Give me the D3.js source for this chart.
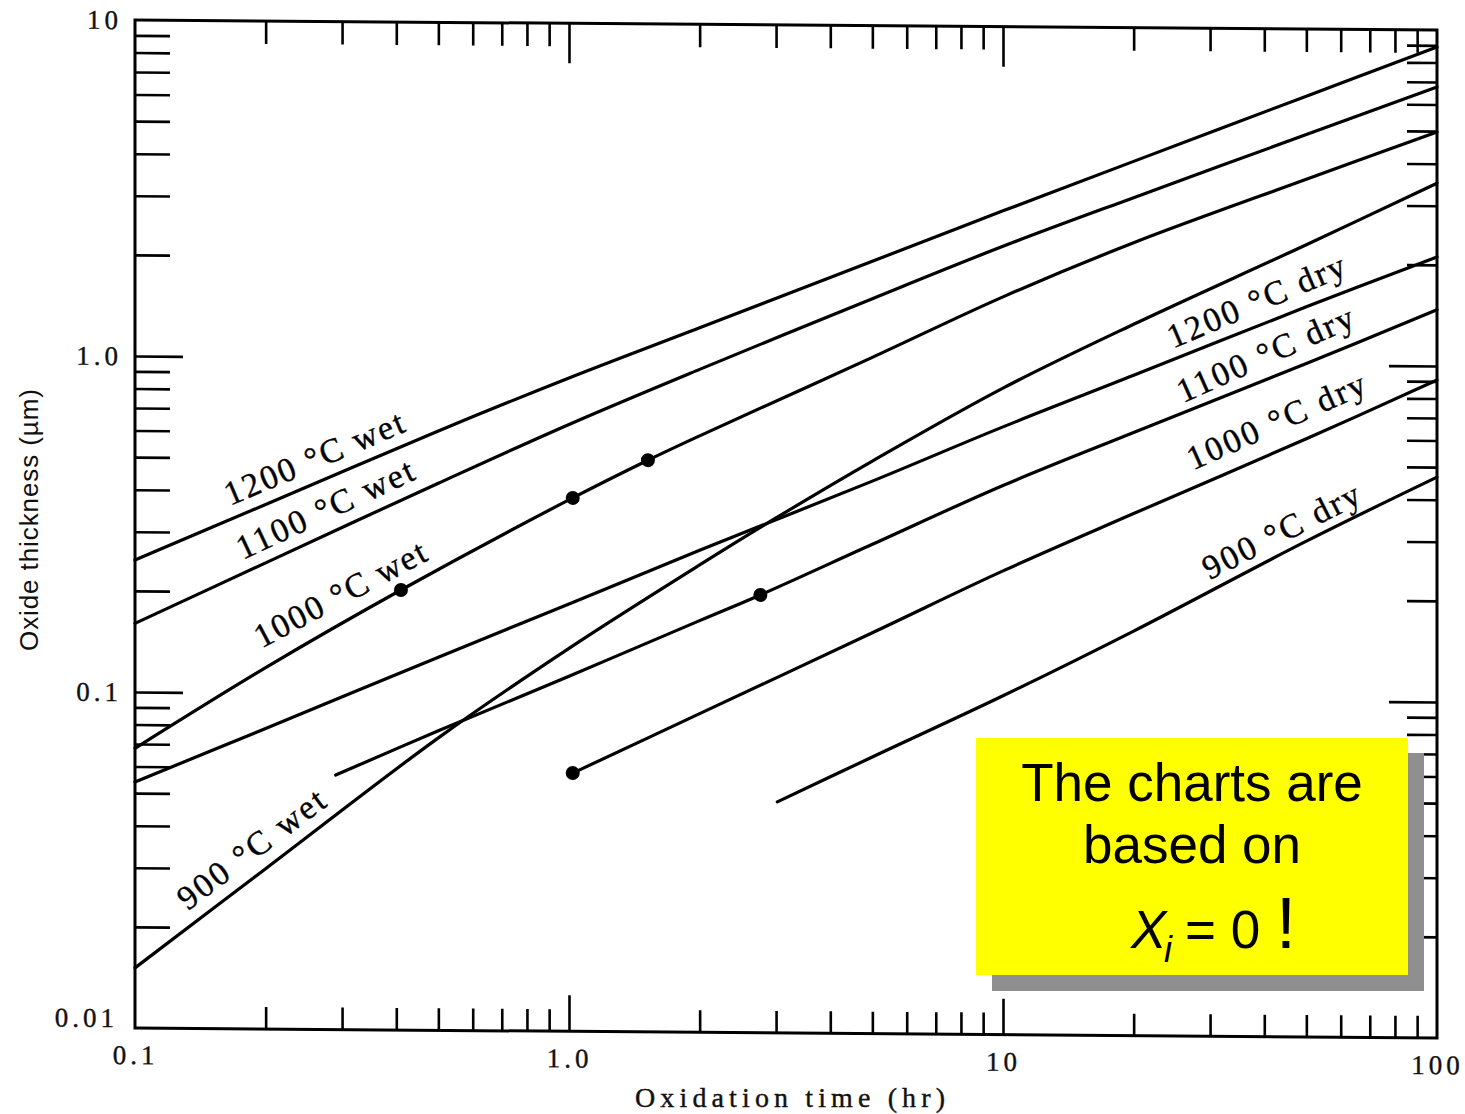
<!DOCTYPE html>
<html>
<head>
<meta charset="utf-8">
<script src="https://cdn.jsdelivr.net/npm/d3@7"></script>
<style>
  body { margin: 0; background: #fff; }
  svg { display: block; }
  .tick text { font-family: "Liberation Serif", serif; font-size: 27px; fill: #111; stroke: #111; stroke-width: 0.4; }
  .curve { fill: none; stroke: #000; stroke-width: 3.2; stroke-linejoin: round; stroke-linecap: round; }
</style>
</head>
<body>
<svg id="chart" width="1465" height="1114"></svg>
<script>
// oxide thickness (um) against oxidation time (hr)
const wet1200Time = [0.1, 0.2, 0.5, 1, 2, 5, 10, 20, 50, 100];
const wet1200 = [0.247, 0.364, 0.608, 0.88, 1.25, 1.99, 2.83, 4.0, 6.31, 8.9];

const wet1100Time = [0.1, 0.2, 0.5, 1, 2, 5, 10, 20, 50, 100];
const wet1100 = [0.160, 0.244, 0.425, 0.64, 0.94, 1.54, 2.22, 3.12, 4.85, 6.77];

const wet1000Time = [0.1, 0.2, 0.41, 1.02, 1.52, 2, 5, 10, 20, 50, 100];
const wet1000 = [0.068, 0.119, 0.204, 0.387, 0.503, 0.596, 1.03, 1.57, 2.29, 3.57, 4.97];

const wet900Time = [0.1, 0.2, 0.5, 1, 2, 3, 5, 10, 20, 50, 100];
const wet900 = [0.0151, 0.030, 0.0742, 0.138, 0.246, 0.341, 0.506, 0.840, 1.31, 2.28, 3.50];

const dry1200Time = [0.1, 0.2, 0.5, 1, 2, 5, 10, 20, 50, 100];
const dry1200 = [0.054, 0.0784, 0.129, 0.187, 0.272, 0.441, 0.644, 0.923, 1.49, 2.11];

const dry1100Time = [0.29, 0.5, 1, 2, 2.76, 5, 10, 20, 50, 100];
const dry1100 = [0.0572, 0.0779, 0.114, 0.168, 0.201, 0.286, 0.431, 0.624, 1.01, 1.47];

const dry1000Time = [1.02, 2, 5, 10, 20, 50, 100];
const dry1000 = [0.0587, 0.0888, 0.156, 0.240, 0.358, 0.603, 0.908];

const dry900Time = [3.02, 5, 10, 20, 50, 100];
const dry900 = [0.0487, 0.0666, 0.102, 0.160, 0.299, 0.467];

// the filled dots drawn on some curves
const dotTime = [0.41, 1.02, 1.52, 2.76, 1.02];
const dotThickness = [0.204, 0.387, 0.503, 0.201, 0.0587];

const curveNames = ['1200 °C wet', '1100 °C wet', '1000 °C wet', '900 °C wet',
                    '1200 °C dry', '1100 °C dry', '1000 °C dry', '900 °C dry'];

const xTickValues = [0.1, 1, 10, 100];
const xTickLabels = ['0.1', '1.0', '10', '100'];
const yTickValues = [0.01, 0.1, 1, 10];
const yTickLabels = ['0.01', '0.1', '1.0', '10'];

const series = [
    [wet1200Time, wet1200], [wet1100Time, wet1100], [wet1000Time, wet1000], [wet900Time, wet900],
    [dry1200Time, dry1200], [dry1100Time, dry1100], [dry1000Time, dry1000], [dry900Time, dry900]
].map(([t, v]) => t.map((d, i) => [d, v[i]]));

// where each curve label sits: centre, angle, length
const labelLayout = [
    {cx: 314, cy: 458, a: -23, len: 192},
    {cx: 325, cy: 509, a: -25, len: 192},
    {cx: 340, cy: 594, a: -28, len: 190},
    {cx: 251, cy: 849, a: -37, len: 176},
    {cx: 1256, cy: 301, a: -23, len: 190},
    {cx: 1265, cy: 354, a: -24, len: 190},
    {cx: 1276, cy: 421, a: -24, len: 192},
    {cx: 1281, cy: 531, a: -27, len: 172}
];

const svg = d3.select('#chart');

const x = d3.scaleLog().domain([0.1, 100]).range([135, 1437]);
const y = d3.scaleLog().domain([0.01, 10]).range([1028, 20]);

// the scan is slightly sheared: the right side sits ~10px lower
const k = 0.00768;
const plot = svg.append('g').attr('transform', `matrix(1,${k},0,1,0,${-k * 135})`);

const minorX = x.ticks().filter(d => !xTickValues.includes(d));
const minorY = y.ticks().filter(d => !yTickValues.includes(d));

function tickAxis(axis, values, size, tx, ty) {
    const g = plot.append('g')
        .attr('transform', `translate(${tx},${ty})`)
        .call(axis.tickValues(values).tickSize(size).tickSizeOuter(0).tickFormat(''));
    g.select('.domain').remove();
    g.selectAll('.tick line').attr('stroke', '#000').attr('stroke-width', 2.6);
    return g;
}

// bottom
tickAxis(d3.axisTop(x), minorX, 22, 0, 1028);
tickAxis(d3.axisTop(x), [1, 10], 36, 0, 1028);
// top
tickAxis(d3.axisBottom(x), minorX, 23, 0, 20);
tickAxis(d3.axisBottom(x), [1, 10], 40, 0, 20);
// left
tickAxis(d3.axisRight(y), minorY, 35, 135, 0);
tickAxis(d3.axisRight(y), [0.1, 1], 48, 135, 0);
// right
tickAxis(d3.axisLeft(y), minorY, 30, 1437, 0);
tickAxis(d3.axisLeft(y), [0.1, 1], 48, 1437, 0);

// tick labels
const xl = plot.append('g')
    .attr('transform', 'translate(0,1028)')
    .call(d3.axisBottom(x).tickValues(xTickValues).tickSize(0).tickPadding(17)
        .tickFormat((d, i) => xTickLabels[i]));
xl.select('.domain').remove();
xl.selectAll('.tick text').attr('letter-spacing', 4).attr('dx', 0);

const yl = plot.append('g')
    .attr('transform', 'translate(135,0)')
    .call(d3.axisLeft(y).tickValues(yTickValues).tickSize(0).tickPadding(13)
        .tickFormat((d, i) => yTickLabels[i]));
yl.select('.domain').remove();
yl.selectAll('.tick text').attr('letter-spacing', 4)
    .attr('dx', d => d === 0.01 ? -4 : 0)
    .attr('dy', d => d === 0.01 ? '-0.05em' : '0.32em');

// frame
plot.append('rect')
    .attr('x', x(0.1)).attr('y', y(10))
    .attr('width', x(100) - x(0.1)).attr('height', y(0.01) - y(10))
    .attr('fill', 'none').attr('stroke', '#000').attr('stroke-width', 3);

// curves
const line = d3.line().x(d => x(d[0])).y(d => y(d[1])).curve(d3.curveCatmullRom.alpha(0.5));
plot.selectAll('.curve').data(series).enter().append('path')
    .attr('class', 'curve')
    .attr('d', line);

plot.selectAll('.dot').data(dotTime).enter().append('circle')
    .attr('class', 'dot')
    .attr('cx', d => x(d))
    .attr('cy', (d, i) => y(dotThickness[i]))
    .attr('r', 7)
    .attr('fill', '#000');

// curve labels
svg.selectAll('.clabel').data(curveNames).enter().append('text')
    .attr('class', 'clabel')
    .attr('transform', (d, i) => `translate(${labelLayout[i].cx},${labelLayout[i].cy}) rotate(${labelLayout[i].a})`)
    .attr('text-anchor', 'middle')
    .attr('dominant-baseline', 'central')
    .attr('textLength', (d, i) => labelLayout[i].len)
    .attr('lengthAdjust', 'spacing')
    .style('font-family', '"Liberation Serif", serif')
    .style('font-size', '34px')
    .style('stroke', '#000')
    .style('stroke-width', 0.4)
    .text(d => d);

// axis titles
svg.append('text')
    .attr('transform', 'translate(38,520) rotate(-90)')
    .attr('text-anchor', 'middle')
    .attr('textLength', 262)
    .attr('lengthAdjust', 'spacing')
    .style('font-family', '"Liberation Sans", sans-serif')
    .style('font-size', '26px')
    .style('fill', '#111')
    .text('Oxide thickness (µm)');

svg.append('text')
    .attr('x', 790).attr('y', 1107)
    .attr('text-anchor', 'middle')
    .attr('textLength', 310)
    .attr('lengthAdjust', 'spacing')
    .style('font-family', '"Liberation Serif", serif')
    .style('font-size', '28px')
    .style('fill', '#111')
    .style('stroke', '#111')
    .style('stroke-width', 0.4)
    .text('Oxidation time (hr)');

// yellow note with its shadow
const note = svg.append('g');
note.append('rect').attr('x', 992).attr('y', 753).attr('width', 432).attr('height', 238).attr('fill', '#8f8f8f');
note.append('rect').attr('x', 976).attr('y', 738).attr('width', 432).attr('height', 237).attr('fill', '#ffff00');
const noteFont = '"Liberation Sans", Arial, sans-serif';
note.append('text').attr('x', 1192).attr('y', 801).attr('text-anchor', 'middle')
    .style('font-family', noteFont).style('font-size', '53px').text('The charts are');
note.append('text').attr('x', 1192).attr('y', 863).attr('text-anchor', 'middle')
    .style('font-family', noteFont).style('font-size', '53px').text('based on');
note.append('text').attr('x', 1131).attr('y', 948)
    .style('font-family', noteFont).style('font-size', '53px').style('font-style', 'italic').text('X');
note.append('text').attr('x', 1164).attr('y', 962)
    .style('font-family', noteFont).style('font-size', '36px').style('font-style', 'italic').text('i');
note.append('text').attr('x', 1185).attr('y', 948)
    .style('font-family', noteFont).style('font-size', '53px').text('= 0');
note.append('text').attr('x', 1276).attr('y', 948)
    .style('font-family', noteFont).style('font-size', '72px').text('!');
</script>
</body>
</html>
